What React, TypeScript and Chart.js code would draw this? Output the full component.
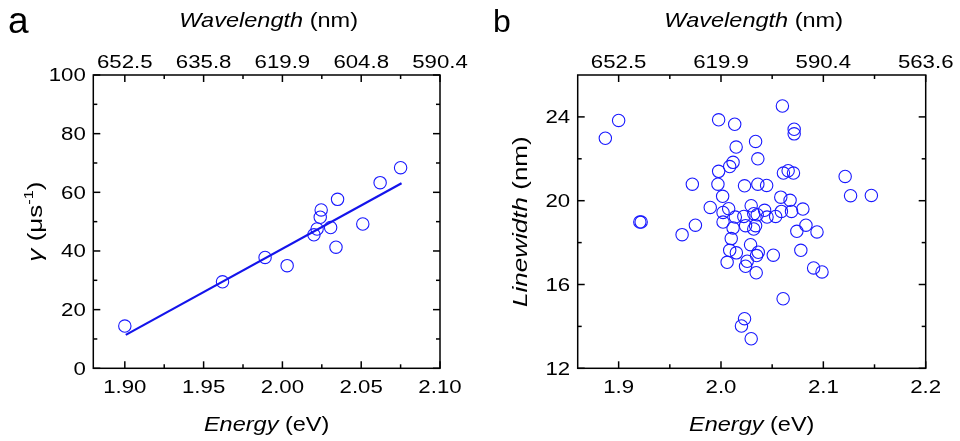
import React, { useEffect, useRef } from "react";
import { Chart, registerables } from "chart.js";

Chart.register(...registerables);

const FONT = '"Liberation Sans", Arial, sans-serif';
const BLUE = "rgb(25,25,255)";
const TICK_STRETCH = 1.27;
const TITLE_STRETCH = 1.12;
const YTITLE_STRETCH = 1.24;
const TICK_SIZE = 17.5;
const TITLE_SIZE = 21;

// ---------- panel a ----------
const aEnergyTicks = [1.9, 1.95, 2.0, 2.05, 2.1];
const aEnergyMinor = [1.925, 1.975, 2.025, 2.075];
const aWavelengthLabels = ["652.5", "635.8", "619.9", "604.8", "590.4"];
const aGammaTicks = [0, 20, 40, 60, 80, 100];
const aGammaMinor = [10, 30, 50, 70, 90];
const aEnergy = [1.9, 1.962, 1.989, 2.003, 2.02, 2.022, 2.0246, 2.024, 2.0306, 2.035, 2.034, 2.051, 2.062, 2.075];
const aGamma = [14.4, 29.5, 37.8, 35.0, 45.5, 47.5, 54.0, 51.5, 48.0, 57.6, 41.3, 49.2, 63.3, 68.4];
const aFitEnergy = [1.9006, 2.0756];
const aFitGamma = [11.4, 63.1];

// ---------- panel b ----------
const bEnergyTicks = [1.9, 2.0, 2.1, 2.2];
const bEnergyMinor = [1.95, 2.05, 2.15];
const bWavelengthLabels = ["652.5", "619.9", "590.4", "563.6"];
const bWidthTicks = [12, 16, 20, 24];
const bWidthMinor = [14, 18, 22];
const bEnergy = [
  1.887, 1.9, 1.9207, 1.922, 1.962, 1.972, 1.975, 1.9895, 1.9977, 1.9977, 1.997, 2.0016, 2.0075, 2.002, 2.002,
  2.006, 2.0085, 2.01, 2.0118, 2.0134, 2.0148, 2.0118, 2.0085, 2.015, 2.014, 2.0223, 2.023, 2.024, 2.0256, 2.024,
  2.023, 2.02, 2.0295, 2.0289, 2.0295, 2.032, 2.0338, 2.036, 2.036, 2.0338, 2.032, 2.0348, 2.0364, 2.0344, 2.0354,
  2.0426, 2.0446, 2.045, 2.0511, 2.0534, 2.0584, 2.059, 2.06, 2.0607, 2.061, 2.0656, 2.0675, 2.0689, 2.0708, 2.0715,
  2.0715, 2.0741, 2.078, 2.08, 2.083, 2.0905, 2.0938, 2.0987, 2.1213, 2.1266, 2.1469,
];
const bLinewidth = [
  22.98, 23.83, 18.98, 18.98, 18.38, 20.79, 18.83, 19.68, 23.86, 21.4, 20.79, 20.21, 19.62, 19.44, 18.98,
  17.06, 17.63, 18.19, 18.7, 23.65, 22.56, 21.83, 21.63, 17.51, 19.22, 19.25, 20.71, 18.81, 17.11, 16.87,
  14.37, 14.02, 13.41, 17.9, 19.76, 19.38, 22.83, 22.0, 20.79, 18.81, 18.65, 17.38, 17.54, 16.56, 19.33,
  19.54, 20.73, 19.22, 17.4, 19.25, 20.17, 19.49, 24.52, 15.32, 21.32, 21.43, 20.02, 19.49, 21.32, 23.41,
  23.19, 18.54, 17.63, 19.6, 18.83, 16.79, 18.51, 16.6, 21.16, 20.24, 20.25,
];

type Part = { t: string; it?: boolean; sup?: boolean };

function drawText(
  ctx: CanvasRenderingContext2D,
  parts: Part[],
  x: number,
  y: number,
  size: number,
  align: "center" | "right" | "left",
  rotate: boolean,
  stretch: number
) {
  ctx.save();
  ctx.translate(x, y);
  if (rotate) ctx.rotate(-Math.PI / 2);
  ctx.scale(stretch, 1);
  const fontOf = (p: Part) => `${p.it ? "italic " : ""}${p.sup ? Math.round(size * 0.62) : size}px ${FONT}`;
  const widths = parts.map((p) => {
    ctx.font = fontOf(p);
    return ctx.measureText(p.t).width;
  });
  const total = widths.reduce((a, b) => a + b, 0);
  let cx = align === "center" ? -total / 2 : align === "right" ? -total : 0;
  ctx.fillStyle = "#000";
  ctx.textAlign = "left";
  ctx.textBaseline = "alphabetic";
  parts.forEach((p, i) => {
    ctx.font = fontOf(p);
    ctx.fillText(p.t, cx, p.sup ? -size * 0.42 : 0);
    cx += widths[i];
  });
  ctx.restore();
}

type PanelSpec = {
  letter: string;
  letterX: number;
  letterY: number;
  letterSize: number;
  xMajor: number[];
  xMinor: number[];
  yMajor: number[];
  yMinor: number[];
  xDigits: number;
  topLabels: string[];
  yTitle: Part[];
  yTitleX: number;
};

function framePlugin(spec: PanelSpec) {
  return {
    id: "frame" + spec.letter,
    afterDraw(chart: any) {
      const ctx: CanvasRenderingContext2D = chart.ctx;
      const { left, right, top, bottom } = chart.chartArea;
      const sx = chart.scales.x;
      const sx2 = chart.scales.x2;
      const sy = chart.scales.y;
      ctx.save();
      ctx.strokeStyle = "#000";
      ctx.lineWidth = 1.5;
      ctx.strokeRect(left, top, right - left, bottom - top);
      const seg = (x1: number, y1: number, x2: number, y2: number) => {
        ctx.beginPath();
        ctx.moveTo(x1, y1);
        ctx.lineTo(x2, y2);
        ctx.stroke();
      };
      const drawX = (vals: number[], len: number) =>
        vals.forEach((v) => {
          const px = sx.getPixelForValue(v);
          seg(px, bottom, px, bottom - len);
          const pt = sx2.getPixelForValue(v);
          seg(pt, top, pt, top + len);
        });
      const drawY = (vals: number[], len: number) =>
        vals.forEach((v) => {
          const py = sy.getPixelForValue(v);
          seg(left, py, left + len, py);
          seg(right, py, right - len, py);
        });
      drawX(spec.xMajor, 7);
      drawX(spec.xMinor, 4);
      drawY(spec.yMajor, 7);
      drawY(spec.yMinor, 4);
      ctx.restore();

      // tick labels from the scales' own ticks
      sx.ticks.forEach((t: any) => {
        const px = sx.getPixelForValue(t.value);
        drawText(ctx, [{ t: Number(t.value).toFixed(spec.xDigits) }], px, bottom + 25, TICK_SIZE, "center", false, TICK_STRETCH);
      });
      sx2.ticks.forEach((t: any, i: number) => {
        const px = sx2.getPixelForValue(t.value);
        drawText(ctx, [{ t: spec.topLabels[i] }], px, top - 6.8, TICK_SIZE, "center", false, TICK_STRETCH);
      });
      sy.ticks.forEach((t: any) => {
        const py = sy.getPixelForValue(t.value);
        drawText(ctx, [{ t: String(t.value) }], left - 7.5, py + 6.3, TICK_SIZE, "right", false, TICK_STRETCH);
      });

      const cx = (left + right) / 2;
      const cy = (top + bottom) / 2;
      drawText(ctx, [{ t: "Energy", it: true }, { t: " (eV)" }], cx, 430.5, TITLE_SIZE, "center", false, TITLE_STRETCH);
      drawText(ctx, [{ t: "Wavelength", it: true }, { t: " (nm)" }], cx + 2, 27.3, TITLE_SIZE, "center", false, TITLE_STRETCH);
      drawText(ctx, spec.yTitle, spec.yTitleX, cy, TITLE_SIZE, "center", true, YTITLE_STRETCH);
      drawText(ctx, [{ t: spec.letter }], spec.letterX, spec.letterY, spec.letterSize, "left", false, 1);
    },
  };
}

function hiddenTicks() {
  return { display: false, autoSkip: false, maxRotation: 0, minRotation: 0 };
}

function makeConfig(opts: {
  datasets: any[];
  xMin: number;
  xMax: number;
  yMin: number;
  yMax: number;
  xTicks: number[];
  yTicks: number[];
  leftWidth: number;
  rightPad: number;
  spec: PanelSpec;
}) {
  return {
    type: "scatter",
    data: { datasets: opts.datasets },
    options: {
      animation: false,
      responsive: false,
      events: [],
      layout: { padding: { left: 0, right: opts.rightPad, top: 0, bottom: 0 } },
      plugins: { legend: { display: false }, tooltip: { enabled: false } },
      scales: {
        x: {
          type: "linear",
          position: "bottom",
          min: opts.xMin,
          max: opts.xMax,
          grid: { display: false, drawTicks: false },
          border: { display: false },
          ticks: hiddenTicks(),
          afterBuildTicks: (s: any) => {
            s.ticks = opts.xTicks.map((v) => ({ value: v }));
          },
          afterFit: (s: any) => {
            s.height = 72.7;
          },
        },
        x2: {
          type: "linear",
          position: "top",
          min: opts.xMin,
          max: opts.xMax,
          grid: { display: false, drawTicks: false },
          border: { display: false },
          ticks: hiddenTicks(),
          afterBuildTicks: (s: any) => {
            s.ticks = opts.xTicks.map((v) => ({ value: v }));
          },
          afterFit: (s: any) => {
            s.height = 75;
          },
        },
        y: {
          type: "linear",
          position: "left",
          min: opts.yMin,
          max: opts.yMax,
          grid: { display: false, drawTicks: false },
          border: { display: false },
          ticks: hiddenTicks(),
          afterBuildTicks: (s: any) => {
            s.ticks = opts.yTicks.map((v) => ({ value: v }));
          },
          afterFit: (s: any) => {
            s.width = opts.leftWidth;
          },
        },
      },
    },
    plugins: [framePlugin(opts.spec)],
  };
}

const pointStyle = {
  pointRadius: 6.2,
  pointBorderWidth: 1.1,
  pointBorderColor: BLUE,
  pointBackgroundColor: "rgba(0,0,0,0)",
  showLine: false,
};

export default function App() {
  const refA = useRef<HTMLCanvasElement>(null);
  const refB = useRef<HTMLCanvasElement>(null);

  useEffect(() => {
    const specA: PanelSpec = {
      letter: "a",
      letterX: 8,
      letterY: 33,
      letterSize: 37,
      xMajor: aEnergyTicks,
      xMinor: aEnergyMinor,
      yMajor: aGammaTicks,
      yMinor: aGammaMinor,
      xDigits: 2,
      topLabels: aWavelengthLabels,
      yTitle: [{ t: "γ", it: true }, { t: " (μs" }, { t: "-1", sup: true }, { t: ")" }],
      yTitleX: 42,
    };
    const specB: PanelSpec = {
      letter: "b",
      letterX: 13,
      letterY: 32,
      letterSize: 32,
      xMajor: bEnergyTicks,
      xMinor: bEnergyMinor,
      yMajor: bWidthTicks,
      yMinor: bWidthMinor,
      xDigits: 1,
      topLabels: bWavelengthLabels,
      yTitle: [{ t: "Linewidth", it: true }, { t: " (nm)" }],
      yTitleX: 46.5,
    };
    const chartA = new Chart(
      refA.current as HTMLCanvasElement,
      makeConfig({
        datasets: [
          {
            type: "line",
            data: aFitEnergy.map((x, i) => ({ x, y: aFitGamma[i] })),
            borderColor: "rgb(20,20,235)",
            borderWidth: 2.2,
            pointRadius: 0,
            showLine: true,
            fill: false,
          },
          {
            data: aEnergy.map((x, i) => ({ x, y: aGamma[i] })),
            ...pointStyle,
          },
        ],
        xMin: 1.88,
        xMax: 2.1,
        yMin: 0,
        yMax: 100,
        xTicks: aEnergyTicks,
        yTicks: aGammaTicks,
        leftWidth: 93.3,
        rightPad: 40,
        spec: specA,
      }) as any
    );
    const chartB = new Chart(
      refB.current as HTMLCanvasElement,
      makeConfig({
        datasets: [
          {
            data: bEnergy.map((x, i) => ({ x, y: bLinewidth[i] })),
            ...pointStyle,
          },
        ],
        xMin: 1.86,
        xMax: 2.2,
        yMin: 12,
        yMax: 26,
        xTicks: bEnergyTicks,
        yTicks: bWidthTicks,
        leftWidth: 97.7,
        rightPad: 34.3,
        spec: specB,
      }) as any
    );
    return () => {
      chartA.destroy();
      chartB.destroy();
    };
  }, []);

  return (
    <div style={{ position: "absolute", left: 0, top: 0, width: 960, height: 441, background: "#fff" }}>
      <canvas ref={refA} width={480} height={441} style={{ position: "absolute", left: 0, top: 0, width: 480, height: 441 }} />
      <canvas ref={refB} width={480} height={441} style={{ position: "absolute", left: 480, top: 0, width: 480, height: 441 }} />
    </div>
  );
}
